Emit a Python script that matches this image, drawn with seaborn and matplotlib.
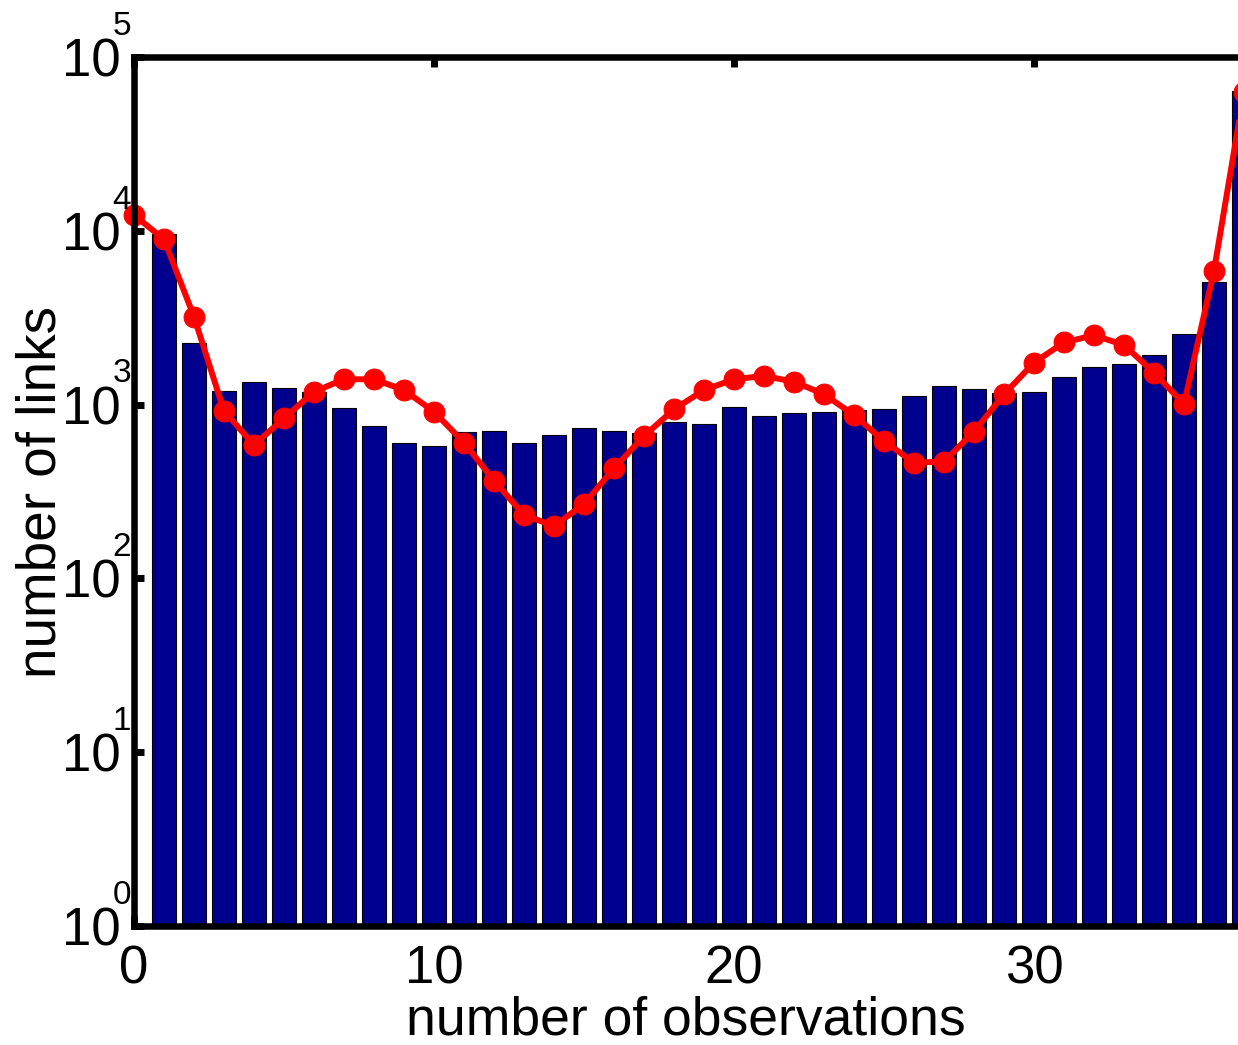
import matplotlib
matplotlib.use("Agg")
import matplotlib.pyplot as plt
import seaborn as sns
import numpy as np
import pandas as pd

# ---- data ----
bar_obs = list(range(1, 38))
bar_links = [9550, 2260, 1200, 1350, 1240, 1180, 950, 755, 605, 578,
             700, 705, 605, 668, 736, 705, 689, 797, 771, 973,
             863, 898, 906, 931, 944, 1115, 1285, 1230, 1161, 1177,
             1435, 1644, 1713, 1938, 2558, 5070, 63960]

line_obs = list(range(0, 38))
line_links = [12330, 8930, 3206, 919, 586, 833, 1186, 1399, 1399, 1213,
              910, 604, 365, 232, 200, 268, 430, 660, 939, 1213,
              1399, 1462, 1355, 1147, 871, 617, 463, 470, 699, 1147,
              1742, 2280, 2505, 2203, 1528, 1008, 5890, 63100]

x_ticks = [0, 10, 20, 30]
y_exponents = [0, 1, 2, 3, 4, 5]

xlabel_text = "number of observations"
ylabel_text = "number of links"

# ---- style ----
sns.set_style("white")
plt.rcParams["font.family"] = ["Liberation Sans", "DejaVu Sans"]
plt.rcParams["text.color"] = "black"
plt.rcParams["axes.labelcolor"] = "black"
plt.rcParams["xtick.color"] = "black"
plt.rcParams["ytick.color"] = "black"

W, H, DPI = 1238, 1045, 100
fig = plt.figure(figsize=(W / DPI, H / DPI), dpi=DPI)
left, right, bottom, top = 134 / W, 1.0, 1 - 926 / H, 1 - 57 / H
ax = fig.add_axes([left, bottom, right - left, top - bottom])

bars_df = pd.DataFrame({"obs": bar_obs, "links": bar_links})
line_df = pd.DataFrame({"obs": line_obs, "links": line_links})

sns.barplot(data=bars_df, x="obs", y="links", native_scale=True, width=0.8,
            color="#00008F", saturation=1, edgecolor="black", linewidth=0.8,
            ax=ax, zorder=1)
sns.lineplot(data=line_df, x="obs", y="links", color="#FF0000", linewidth=4.3,
             marker="o", markersize=15, markeredgecolor="#FF0000",
             markerfacecolor="#FF0000", clip_on=False, ax=ax, zorder=2)

ax.set_yscale("log")
ax.set_ylim(1, 1e5)
ax.set_xlim(0, 36.8)
ax.minorticks_off()

ax.set_xticks(x_ticks)
ax.set_xticklabels([str(t) for t in x_ticks])
ax.set_yticks([10.0 ** e for e in y_exponents])
ax.set_yticklabels(["10" for _ in y_exponents])

ax.tick_params(axis="x", which="major", direction="in", length=7.5, width=5,
               labelsize=38, pad=13.5, top=True, bottom=True, color="black",
               labelcolor="black")
ax.tick_params(axis="y", which="major", direction="in", length=7.5, width=5,
               labelsize=38, pad=9.5, left=True, right=False, color="black",
               labelcolor="black")

for name in ["left", "top", "bottom"]:
    ax.spines[name].set_linewidth(4.7)
    ax.spines[name].set_color("black")
ax.spines["right"].set_visible(False)

# exponents of the decade labels
for e in y_exponents:
    ax.annotate(str(e), xy=(0, 10.0 ** e), xycoords=("axes fraction", "data"),
                xytext=(-8.6, 16), textcoords="offset points",
                ha="center", va="baseline", fontsize=24, color="black",
                annotation_clip=False)

ax.set_xlabel(xlabel_text, fontsize=38.5, color="black")
ax.set_ylabel(ylabel_text, fontsize=39.5, color="black")
ax.xaxis.set_label_coords(0.5, -0.0805)
ax.yaxis.set_label_coords(-0.060, 0.5)

fig.savefig("out.png", dpi=DPI)
